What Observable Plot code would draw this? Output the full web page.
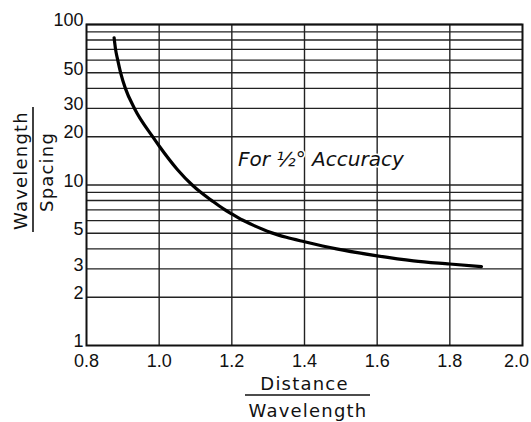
<!DOCTYPE html>
<html><head>
<meta charset="utf-8">
<script src="https://cdn.jsdelivr.net/npm/d3@7"></script>
<script src="https://cdn.jsdelivr.net/npm/@observablehq/plot@0.6"></script>
<style>
body{margin:0;background:#fff}
</style>
</head><body><div id="chart"></div>
<script>
const distance = [0.876, 0.880, 0.886, 0.894, 0.907, 0.932, 0.982, 1.0, 1.05, 1.091, 1.117, 1.143, 1.177, 1.2, 1.229, 1.26, 1.308, 1.35, 1.4, 1.488, 1.6, 1.7, 1.8, 1.887];
const ratio    = [82.7, 70, 60, 50, 40, 30, 20, 17.5, 12.5, 10, 8.9, 8.05, 7.1, 6.6, 6.05, 5.6, 5.05, 4.72, 4.43, 4.0, 3.62, 3.37, 3.22, 3.1];
const xTicks = [0.8, 1.0, 1.2, 1.4, 1.6, 1.8, 2.0];
const xGrid = [1.0, 1.2, 1.4, 1.6, 1.8];
const yTicks = [1, 2, 3, 5, 10, 20, 30, 50, 100];
const yGrid = [2, 3, 4, 5, 6, 7, 8, 9, 10, 20, 30, 40, 50, 60, 70, 80, 90, 100];
const annotation = ["For \u00BD\u00B0 Accuracy"];
const xLabel = ["Distance", "Wavelength"];
const yLabel = ["Wavelength", "Spacing"];

const curve = distance.map((d, i) => ({distance: d, ratio: ratio[i]}));
const tickFont = '"Liberation Sans",sans-serif';
const labelFont = '"DejaVu Sans",sans-serif';

const chart = Plot.plot({
  width: 531,
  height: 422,
  marginLeft: 86,
  marginRight: 9,
  marginTop: 24,
  marginBottom: 77,
  style: {fontFamily: tickFont, background: "#fff", color: "#111"},
  x: {domain: [0.8, 2.0]},
  y: {type: "log", domain: [1, 100]},
  marks: [
    Plot.ruleY(yGrid, {stroke: "#222", strokeWidth: 1.4}),
    Plot.ruleX(xGrid, {stroke: "#222", strokeWidth: 1.4}),
    Plot.frame({stroke: "#111", strokeWidth: 2}),
    Plot.line(curve, {x: "distance", y: "ratio", stroke: "#000", strokeWidth: 3.2, curve: "monotone-x"}),
    Plot.text(annotation, {x: 1.445, y: 14.5, text: d => d, fontSize: 20, fontFamily: labelFont, fontStyle: "italic", fill: "#111", stroke: "#fff", strokeWidth: 3, paintOrder: "stroke"}),
    Plot.axisX({ticks: xTicks.slice(0, -1), tickSize: 0, tickPadding: 9, fontSize: 18, tickFormat: d => d.toFixed(1), label: null}),
    Plot.axisX({ticks: xTicks.slice(-1), tickSize: 0, tickPadding: 9, fontSize: 18, dx: -6, tickFormat: d => d.toFixed(1), label: null}),
    Plot.axisY({ticks: yTicks, tickSize: 0, tickPadding: 3, fontSize: 18, dy: -4, tickFormat: d => String(d), label: null}),
    Plot.text([xLabel[0]], {frameAnchor: "bottom", lineAnchor: "middle", textAnchor: "middle", dx: 0, dy: 39, text: d => d, fontSize: 18, fontFamily: labelFont, fill: "#111"}),
    Plot.text([xLabel[1]], {frameAnchor: "bottom", lineAnchor: "middle", textAnchor: "middle", dx: 3.5, dy: 66, text: d => d, fontSize: 18, fontFamily: labelFont, fill: "#111"}),
    Plot.text([yLabel[0]], {frameAnchor: "left", lineAnchor: "middle", textAnchor: "middle", dx: -65, dy: -14.5, rotate: -90, text: d => d, fontSize: 18, fontFamily: labelFont, fill: "#111"}),
    Plot.text([yLabel[1]], {frameAnchor: "left", lineAnchor: "middle", textAnchor: "middle", dx: -39, dy: -13, rotate: -90, text: d => d, fontSize: 18, fontFamily: labelFont, fill: "#111"})
  ]
});

const svg = d3.select(chart);
const allLabels = xLabel.concat(yLabel);
svg.selectAll("text").filter(function() { return allLabels.includes(this.textContent); }).attr("letter-spacing", "1.2px");
svg.append("line").attr("x1", 245).attr("x2", 370).attr("y1", 395).attr("y2", 395).attr("stroke", "#111").attr("stroke-width", 1.6);
svg.append("line").attr("x1", 33).attr("x2", 33).attr("y1", 107).attr("y2", 232).attr("stroke", "#111").attr("stroke-width", 1.6);

document.getElementById("chart").appendChild(chart);
</script>
</body></html>
